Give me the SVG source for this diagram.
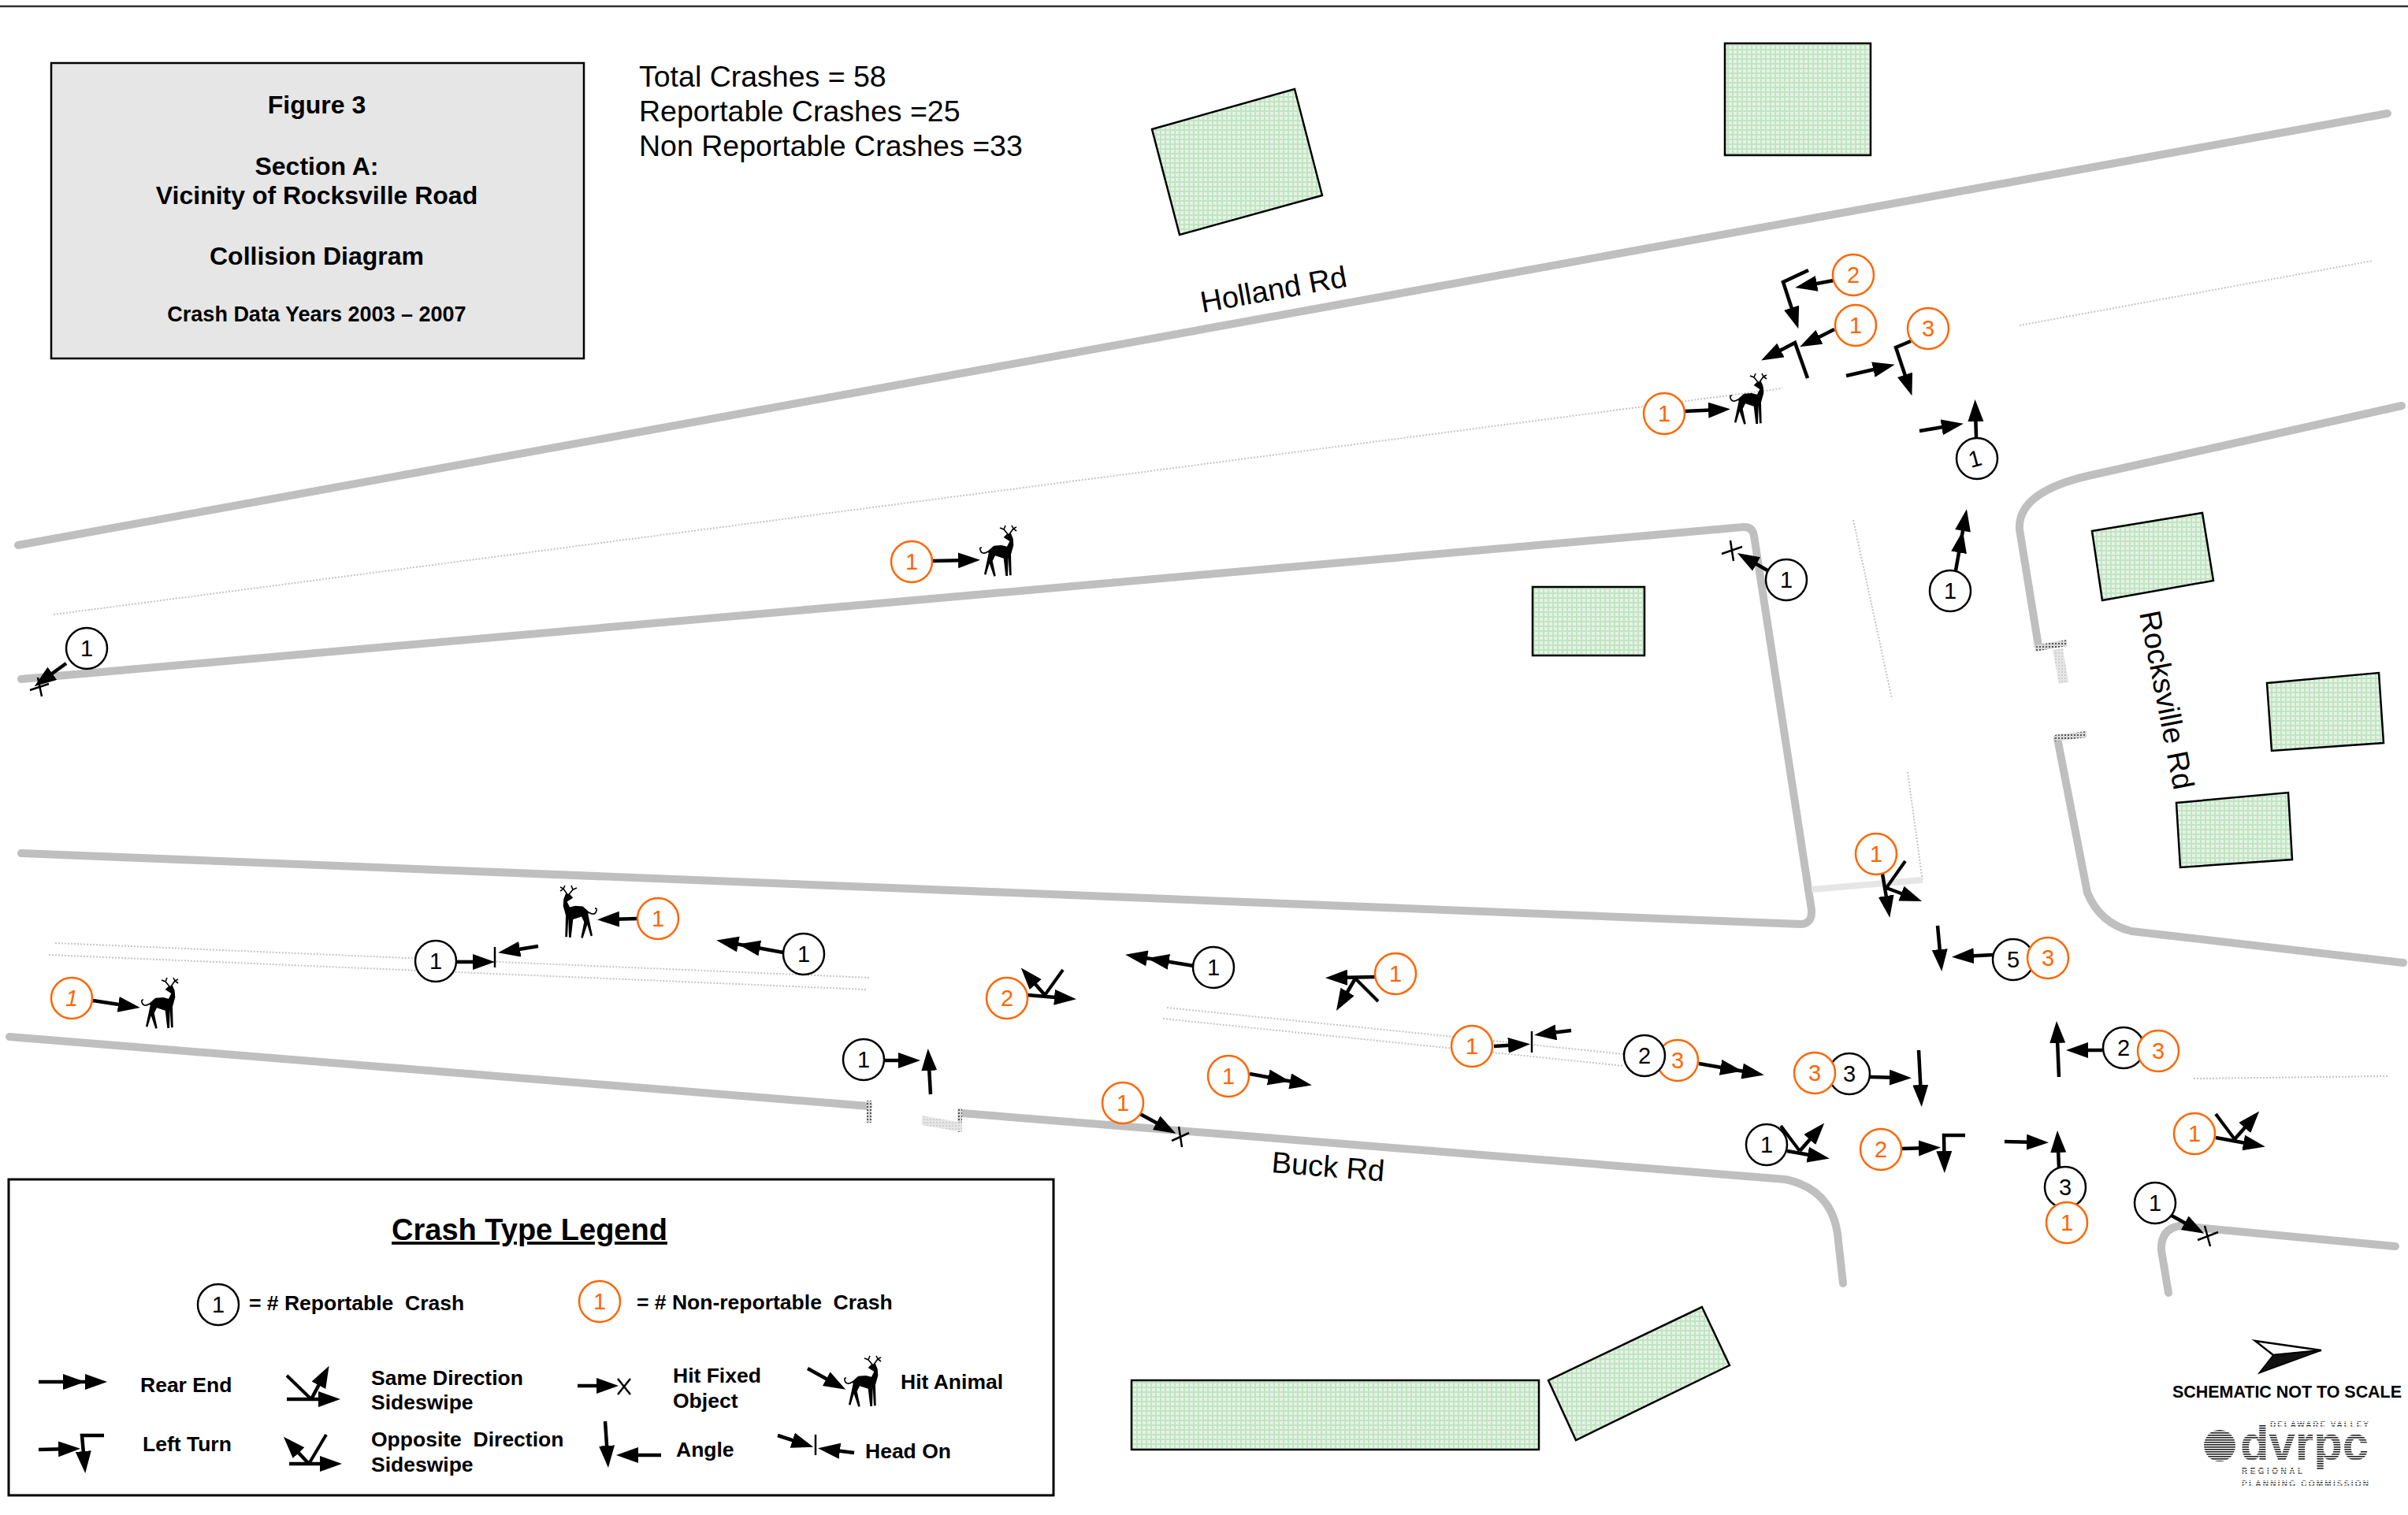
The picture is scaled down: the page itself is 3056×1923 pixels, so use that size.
<svg xmlns="http://www.w3.org/2000/svg" width="3056" height="1923" viewBox="0 0 3056 1923">
<style>
text{font-family:"Liberation Sans",Arial,sans-serif}
.road{fill:none;stroke:#bfbfbf;stroke-width:10;stroke-linecap:round;stroke-linejoin:round}
.dot{fill:none;stroke:#c4c4c4;stroke-width:2;stroke-dasharray:2 2}
.bld{fill:url(#bh);stroke:#000;stroke-width:2.5}
.a{fill:none;stroke:#000;stroke-width:4.5;marker-end:url(#h)}
.d{fill:none;stroke:#000;stroke-width:4.5;marker-end:url(#hh)}
.l{fill:none;stroke:#000;stroke-width:4}
.x{fill:none;stroke:#000;stroke-width:2.5}
.k circle{fill:#fff;stroke:#000;stroke-width:2.5}
.o circle{fill:#fff;stroke:#ff6600;stroke-width:2.5}
.k text,.o text{font-size:29px;text-anchor:middle}
.k text{fill:#000}.o text{fill:#ff6600}
.b{font-weight:bold}
.tt{font-size:32px;font-weight:bold;text-anchor:middle}
.lg{font-size:26.5px;font-weight:bold}
.top{font-size:37.5px}
.rd{font-size:38px}
</style>
<defs>
<pattern id="bh" width="6" height="6" patternUnits="userSpaceOnUse"><rect width="6" height="6" fill="#e4f3e4"/><rect x="2" y="0" width="2" height="6" fill="#c2e4c4"/><rect x="0" y="2" width="6" height="2" fill="#c2e4c4"/></pattern>
<pattern id="hat" width="4" height="4" patternUnits="userSpaceOnUse"><rect width="4" height="4" fill="#d8d8d8"/><rect width="2" height="2" fill="#555"/></pattern>
<pattern id="lt" width="4" height="4" patternUnits="userSpaceOnUse"><rect width="4" height="4" fill="#e6e6e6"/><rect width="2" height="2" fill="#cfcfcf"/></pattern>
<pattern id="st" width="3" height="3" patternUnits="userSpaceOnUse"><rect width="3" height="1.6" fill="#222"/></pattern>
<marker id="h" markerUnits="userSpaceOnUse" markerWidth="30" markerHeight="22" refX="14" refY="10" orient="auto"><path d="M0,0L28,10L0,20z"/></marker>
<marker id="hh" markerUnits="userSpaceOnUse" markerWidth="58" markerHeight="22" refX="42" refY="10" orient="auto"><path d="M0,0L28,10L0,20zM28,0L56,10L28,20z"/></marker>
<g id="deer"><path d="M10,33L18.3,25.7L28,25L35,26.7L38.3,20L33.3,16.7L30.7,15L35,10.7L40,10L42.7,16.7L43.3,25L40,36.7L40.7,63.3L38,63.3L36.7,40L36,64L33.3,64L30.7,41.7L20,38.3L16.7,45L20.7,64L18.3,64.7L12.7,48.3L8.3,62.7L6,61.7L10,43.3L11.7,35z"/><path d="M11,33Q3,38 1,31Q0,28 3,28M36,11L31,5L26,3M31,5L33,0M38,11L43,4L47,2M43,4L41,0M43,4L47,7" fill="none" stroke="#000" stroke-width="1.6"/></g>
</defs>
<rect width="3056" height="1923" fill="#fff"/>
<line x1="0" y1="8" x2="3056" y2="8" stroke="#333" stroke-width="2.5"/>

<g id="roads">
<path class="road" d="M23,692L3030,144"/>
<path class="road" d="M27,862L2212,669Q2224,668 2226,680L2299,1155Q2300,1173 2285,1173L27,1083"/>
<path class="road" d="M12,1316L1102,1404"/>
<path class="road" d="M1221,1413L2266,1497Q2328,1510 2333,1575L2339,1629"/>
<path class="road" d="M2752,1641L2743,1587Q2742,1560 2766,1556L3040,1582"/>
<path class="road" d="M3048,515L2650,604Q2560,625 2563,672L2587,820"/>
<path class="road" d="M2611,937L2649,1133Q2665,1172 2705,1182L3050,1222"/>
<path class="dot" d="M68,780L2262,493"/>
<path class="dot" d="M2563,413L3011,331"/>
<path class="dot" d="M2352,660L2401,887"/>
<path class="dot" d="M2421,980L2440,1119"/>
<path class="dot" d="M70,1197L1105,1241"/>
<path class="dot" d="M62,1212L1100,1256"/>
<path class="dot" d="M1481,1279L2061,1338"/>
<path class="dot" d="M1476,1293L2061,1353"/>
<path class="dot" d="M2784,1369L3030,1366"/>
<path d="M2299,1129L2440,1117" stroke="#e6e6e6" stroke-width="8" fill="none"/>
<polygon points="2583,819 2623,812 2623,820 2583,827" fill="url(#hat)"/>
<polygon points="2608,933 2648,928 2648,936 2608,941" fill="url(#hat)"/>
<polygon points="2605,825 2618,823 2625,866 2613,868" fill="url(#lt)"/>
<rect x="1100" y="1397" width="6" height="28" fill="url(#hat)"/>
<rect x="1215" y="1407" width="6" height="30" fill="url(#hat)"/>
<polygon points="1170,1416 1221,1425 1221,1437 1170,1428" fill="url(#lt)"/>
</g>

<g id="buildings">
<polygon id="b1" class="bld" points="1462,164 1643,113 1678,248 1497,298"/>
<rect id="b2" class="bld" x="2189" y="55" width="185" height="142"/>
<rect id="b3" class="bld" x="1945" y="745" width="142" height="87"/>
<polygon id="b4" class="bld" points="2655,674 2795,651 2809,737 2668,762"/>
<polygon id="b5" class="bld" points="2877,867 3019,854 3025,943 2883,953"/>
<polygon id="b6" class="bld" points="2762,1019 2904,1006 2909,1091 2767,1101"/>
<rect id="b7" class="bld" x="1436" y="1752" width="517" height="88"/>
<polygon id="b8" class="bld" points="2160,1659 2195,1733 2000,1828 1965,1752"/>
</g>

<g id="title-box">
<rect x="65" y="80" width="676" height="375" fill="#e6e6e6" stroke="#000" stroke-width="2.5"/>
<text class="tt" x="402" y="144">Figure 3</text>
<text class="tt" x="402" y="222">Section A:</text>
<text class="tt" x="402" y="259">Vicinity of Rocksville Road</text>
<text class="tt" x="402" y="336">Collision Diagram</text>
<text class="tt" x="402" y="408" style="font-size:27px">Crash Data Years 2003 – 2007</text>
</g>
<g id="totals">
<text class="top" x="811" y="110">Total Crashes = 58</text>
<text class="top" x="811" y="154">Reportable Crashes =25</text>
<text class="top" x="811" y="198">Non Reportable Crashes =33</text>
</g>
<g id="road-labels">
<text class="rd" transform="translate(1526,397) rotate(-10.3)">Holland Rd</text>
<text class="rd" transform="translate(1613,1488) rotate(4.6)">Buck Rd</text>
<text class="rd" transform="translate(2715,778) rotate(79)">Rocksville Rd</text>
</g>

<g id="connectors">
<path class="a" d="M2327,356L2292,362.5"/>
<path class="a" d="M2295,343L2263,358L2278,404"/>
<path class="a" d="M2328,418L2296.5,434"/>
<path class="a" d="M2294,480L2278,435L2247.5,451"/>
<path class="a" d="M2343,477L2391,466"/>
<path class="a" d="M2425,433L2406,441L2422,489"/>
<path class="a" d="M2436,547L2478,540"/>
<path class="a" d="M2508,555L2507,521"/>
<path class="d" d="M2482,724L2493.5,660"/>
<path class="a" d="M2138,522L2182,520"/>
<path class="a" d="M2243,724L2217,709"/>
<path class="x" d="M2185,703L2211,694M2196,686L2200,712"/>
<path class="a" d="M1184,712L1230,711"/>
<path class="a" d="M84,842L55,863"/>
<path class="x" d="M38,876L62,868M48,860L53,884"/>
<path class="a" d="M118,1270L164,1277"/>
<path class="a" d="M579,1221L614,1221"/>
<path class="x" d="M628,1202L628,1228"/>
<path class="a" d="M683,1201L646,1207"/>
<path class="a" d="M809,1166L772,1167"/>
<path class="d" d="M994,1209L923,1196"/>
<path class="a" d="M1123,1346L1154,1346"/>
<path class="a" d="M1181,1389L1178.5,1345"/>
<path class="a" d="M1304,1263L1352,1267"/>
<path class="a" d="M1326,1263L1305,1239"/>
<path class="l" d="M1349,1231L1326,1263"/>
<path class="d" d="M1515,1226L1442,1214"/>
<path class="a" d="M1746,1240L1696,1241"/>
<path class="a" d="M1720,1242L1703,1271"/>
<path class="l" d="M1720,1242L1749,1271"/>
<path class="d" d="M1586,1363L1651,1375"/>
<path class="a" d="M1447,1414L1480,1432"/>
<path class="x" d="M1487,1448L1509,1438M1496,1430L1500,1456"/>
<path class="a" d="M1896,1328L1928,1326"/>
<path class="x" d="M1944,1309L1944,1336"/>
<path class="a" d="M1994,1308L1961,1312"/>
<path class="d" d="M2156,1350L2225,1362"/>
<path class="a" d="M2389,1109L2396,1151"/>
<path class="l" d="M2418,1093L2394,1127"/>
<path class="a" d="M2394,1127L2426,1139"/>
<path class="a" d="M2459,1175L2463,1219"/>
<path class="a" d="M2529,1212L2491,1214"/>
<path class="a" d="M2613,1367L2610.6,1310"/>
<path class="a" d="M2668,1333L2636,1333"/>
<path class="a" d="M2373,1367L2412,1368"/>
<path class="a" d="M2435,1333L2438,1391"/>
<path class="a" d="M2268,1461L2308,1468"/>
<path class="l" d="M2260,1429L2284,1461"/>
<path class="a" d="M2284,1461L2306,1436"/>
<path class="a" d="M2413,1458L2449,1457"/>
<path class="a" d="M2494,1441L2467,1441L2467.6,1475"/>
<path class="a" d="M2544,1449L2586,1450"/>
<path class="a" d="M2613,1482L2611.6,1449"/>
<path class="a" d="M2812,1444L2861,1453"/>
<path class="l" d="M2812,1414L2836,1446"/>
<path class="a" d="M2836,1446L2858,1421"/>
<path class="a" d="M2756,1543L2785,1559"/>
<path class="x" d="M2789,1574L2815,1564M2798,1556L2805,1582"/>
</g>

<use id="deer1" href="#deer" x="1243" y="667"/>
<use id="deer2" href="#deer" x="2195" y="474"/>
<use id="deer3" href="#deer" x="179" y="1241"/>
<use id="deer4" href="#deer" transform="translate(758,1124) scale(-1,1.03)"/>

<g id="n1" class="o"><circle cx="2352" cy="349" r="26"/><text x="2352" y="359">2</text></g>
<g id="n2" class="o"><circle cx="2355" cy="413" r="26"/><text x="2355" y="423">1</text></g>
<g id="n3" class="o"><circle cx="2447" cy="417" r="26"/><text x="2447" y="427">3</text></g>
<g id="n4" class="o"><circle cx="2112" cy="525" r="26"/><text x="2112" y="535">1</text></g>
<g id="n5" class="k"><circle cx="2509" cy="582" r="26"/><text transform="translate(2509,592) rotate(-15)">1</text></g>
<g id="n6" class="k"><circle cx="2267" cy="736" r="26"/><text x="2267" y="746">1</text></g>
<g id="n7" class="k"><circle cx="2475" cy="750" r="26"/><text x="2475" y="760">1</text></g>
<g id="n8" class="o"><circle cx="1157" cy="713" r="26"/><text x="1157" y="723">1</text></g>
<g id="n9" class="k"><circle cx="110" cy="823" r="26"/><text x="110" y="833">1</text></g>
<g id="n10" class="o"><circle cx="91" cy="1267" r="26"/><text x="91" y="1277" font-style="italic">1</text></g>
<g id="n11" class="k"><circle cx="553" cy="1220" r="26"/><text x="553" y="1230">1</text></g>
<g id="n12" class="o"><circle cx="835" cy="1166" r="26"/><text x="835" y="1176">1</text></g>
<g id="n13" class="k"><circle cx="1020" cy="1211" r="26"/><text x="1020" y="1221">1</text></g>
<g id="n14" class="k"><circle cx="1096" cy="1345" r="26"/><text x="1096" y="1355">1</text></g>
<g id="n15" class="o"><circle cx="1278" cy="1267" r="26"/><text x="1278" y="1277">2</text></g>
<g id="n16" class="k"><circle cx="1540" cy="1228" r="26"/><text x="1540" y="1238">1</text></g>
<g id="n17" class="o"><circle cx="1771" cy="1236" r="26"/><text x="1771" y="1246">1</text></g>
<g id="n18" class="o"><circle cx="1559" cy="1366" r="26"/><text x="1559" y="1376">1</text></g>
<g id="n19" class="o"><circle cx="1425" cy="1400" r="26"/><text x="1425" y="1410">1</text></g>
<g id="n20" class="o"><circle cx="1868" cy="1328" r="26"/><text x="1868" y="1338">1</text></g>
<g id="n21" class="o"><circle cx="2129" cy="1346" r="26"/><text x="2129" y="1356">3</text></g>
<g id="n22" class="k"><circle cx="2087" cy="1340" r="26"/><text x="2087" y="1350">2</text></g>
<g id="n23" class="o"><circle cx="2381" cy="1084" r="26"/><text x="2381" y="1094">1</text></g>
<g id="n24" class="k"><circle cx="2555" cy="1218" r="26"/><text x="2555" y="1228">5</text></g>
<g id="n25" class="o"><circle cx="2599" cy="1216" r="26"/><text x="2599" y="1226">3</text></g>
<g id="n26" class="k"><circle cx="2695" cy="1330" r="26"/><text x="2695" y="1340">2</text></g>
<g id="n27" class="o"><circle cx="2739" cy="1334" r="26"/><text x="2739" y="1344">3</text></g>
<g id="n28" class="k"><circle cx="2347" cy="1363" r="26"/><text x="2347" y="1373">3</text></g>
<g id="n29" class="o"><circle cx="2303" cy="1362" r="26"/><text x="2303" y="1372">3</text></g>
<g id="n30" class="k"><circle cx="2242" cy="1453" r="26"/><text x="2242" y="1463">1</text></g>
<g id="n31" class="o"><circle cx="2387" cy="1459" r="26"/><text x="2387" y="1469">2</text></g>
<g id="n32" class="k"><circle cx="2621" cy="1507" r="26"/><text x="2621" y="1517">3</text></g>
<g id="n33" class="o"><circle cx="2623" cy="1552" r="26"/><text x="2623" y="1562">1</text></g>
<g id="n34" class="o"><circle cx="2785" cy="1439" r="26"/><text x="2785" y="1449">1</text></g>
<g id="n35" class="k"><circle cx="2735" cy="1527" r="26"/><text x="2735" y="1537">1</text></g>

<g id="legend">
<rect x="11" y="1497" width="1326" height="401" fill="#fff" stroke="#000" stroke-width="3"/>
<text x="672" y="1574" text-anchor="middle" class="b" style="font-size:38px" text-decoration="underline">Crash Type Legend</text>
<g id="leg-k" class="k"><circle cx="277" cy="1656" r="26"/><text x="277" y="1666">1</text></g>
<g id="leg-o" class="o"><circle cx="761" cy="1652" r="26"/><text x="761" y="1662">1</text></g>
<text class="lg" x="316" y="1663" xml:space="preserve">= # Reportable  Crash</text>
<text class="lg" x="808" y="1662" xml:space="preserve">= # Non-reportable  Crash</text>
<text class="lg" x="178" y="1767">Rear End</text>
<text class="lg" x="471" y="1758">Same Direction</text>
<text class="lg" x="471" y="1789">Sideswipe</text>
<text class="lg" x="854" y="1755">Hit Fixed</text>
<text class="lg" x="854" y="1787">Object</text>
<text class="lg" x="1143" y="1763">Hit Animal</text>
<text class="lg" x="181" y="1842">Left Turn</text>
<text class="lg" x="471" y="1836" xml:space="preserve">Opposite  Direction</text>
<text class="lg" x="471" y="1868">Sideswipe</text>
<text class="lg" x="858" y="1849">Angle</text>
<text class="lg" x="1098" y="1851">Head On</text>
<path class="d" d="M49,1754L122,1754"/>
<path class="a" d="M364,1776L418,1776"/>
<path class="l" d="M364,1746L395,1776"/>
<path class="a" d="M395,1776L411,1746"/>
<path class="a" d="M733,1759L771,1759"/>
<path class="x" d="M784,1750L800,1770M800,1750L784,1770"/>
<path class="a" d="M1025,1737L1061,1757"/>
<use href="#deer" x="1071" y="1721"/>
<path class="a" d="M49,1840L88,1839"/>
<path class="a" d="M132,1822L104,1822L107,1856"/>
<path class="a" d="M367,1858L420,1858"/>
<path class="l" d="M414,1821L392,1858"/>
<path class="a" d="M392,1858L369.5,1834"/>
<path class="a" d="M768,1804L771,1849"/>
<path class="a" d="M839,1847L796,1847"/>
<path class="a" d="M987,1822L1019,1832.5"/>
<path class="x" d="M1035,1821L1035,1847"/>
<path class="a" d="M1084,1844L1052,1840"/>
</g>

<g id="north-arrow">
<polygon points="2862,1702 2946,1714 2885,1720" fill="#fff" stroke="#000" stroke-width="2.5"/>
<polygon points="2885,1720 2946,1714 2867,1743" fill="#111" stroke="#000" stroke-width="1.5"/>
<text class="b" x="2757" y="1774" style="font-size:22px" textLength="291" lengthAdjust="spacingAndGlyphs">SCHEMATIC NOT TO SCALE</text>
</g>
<g id="dvrpc-logo">
<circle cx="2817" cy="1835" r="20" fill="url(#st)"/>
<text class="b" x="2843" y="1853" style="font-size:62px" fill="url(#st)" textLength="163" lengthAdjust="spacingAndGlyphs">dvrpc</text>
<text class="b" x="2881" y="1812" style="font-size:10px" fill="url(#st)" textLength="125">DELAWARE VALLEY</text>
<text class="b" x="2845" y="1871" style="font-size:10px" fill="url(#st)" textLength="77">REGIONAL</text>
<text class="b" x="2845" y="1887" style="font-size:10px" fill="url(#st)" textLength="161">PLANNING COMMISSION</text>
</g>
</svg>
